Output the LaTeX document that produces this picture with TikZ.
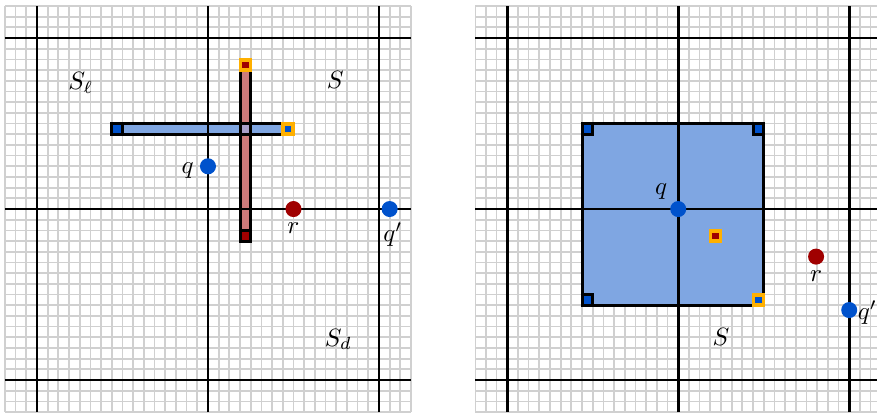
\documentclass[tikz,border=0pt]{standalone}
\definecolor{barblue}{RGB}{127,166,226}
\definecolor{barred}{RGB}{205,123,123}
\definecolor{overlapc}{RGB}{168,158,200}
\definecolor{dkblue}{RGB}{0,82,204}
\definecolor{dkred}{RGB}{160,0,0}
\definecolor{orng}{RGB}{255,176,0}
\definecolor{gridc}{RGB}{208,208,208}
\newcommand{\ringbox}[3]{%
  \fill[orng] ({#1-0.13},{#2-0.13}) rectangle ({#1+1.13},{#2+1.13});
  \fill[#3] ({#1+0.2},{#2+0.2}) rectangle ({#1+0.8},{#2+0.8});}
\begin{document}
\begin{tikzpicture}[x=0.15cm,y=0.15cm,
  fine/.style={draw=gridc,line width=0.7pt,step=0.15cm},
  major/.style={draw=black,line width=1.1pt},
  outl/.style={draw=black,line width=1.2pt},
  dot/.style={circle,inner sep=0pt,minimum size=0.225cm},
  lab/.style={inner sep=1pt}]
\useasboundingbox (-3.46,-2.99) rectangle (78.6,35.56);
% ---------------- left panel ----------------
\draw[fine] (-3,-3) grid (35,35);
\fill[barred] (19,13) rectangle (20,30);
\fill[barblue] (7,23) rectangle (24,24);
\fill[overlapc] (19,23) rectangle (20,24);
\foreach \v in {0,16,32} {
  \draw[major] (\v,-3) -- (\v,35);
  \draw[major] (-3,\v) -- (35,\v);
}
\draw[outl] (7,23) rectangle (24,24);
\draw[outl] (19,13) rectangle (20,30);
\draw[outl,fill=dkblue] (7,23) rectangle (8,24);
\draw[outl,fill=dkred] (19,13) rectangle (20,14);
\ringbox{23}{23}{dkblue}
\ringbox{19}{29}{dkred}
\node[dot,fill=dkblue] (q) at (16,20) {};
\node[dot,fill=dkred] (r) at (24,16) {};
\node[dot,fill=dkblue] (qp) at (33,16) {};
\node[lab] (ql) at (14.1,19.6) {$q$};
\node[lab] (rl) at (24,14.2) {$r$};
\node[lab] (qpl) at (33.3,13.6) {$q'$};
\node[lab] (Sl) at (4.1,27.8) {$S_\ell$};
\node[lab] (S) at (27.9,28.1) {$S$};
\node[lab] (Sd) at (28.2,3.8) {$S_d$};
% ---------------- right panel ----------------
\begin{scope}
\clip (41,-3.2) rectangle (78.6,35.2);
\draw[fine] (41,-3) grid (79,35);
\fill[barblue] (51,7) rectangle (68,24);
\foreach \v in {44,60,76} \draw[major] (\v,-3) -- (\v,35);
\foreach \v in {0,16,32} \draw[major] (41,\v) -- (79,\v);
\end{scope}
\draw[outl] (51,7) rectangle (68,24);
\draw[outl,fill=dkblue] (51,23) rectangle (52,24);
\draw[outl,fill=dkblue] (67,23) rectangle (68,24);
\draw[outl,fill=dkblue] (51,7) rectangle (52,8);
\ringbox{67}{7}{dkblue}
\ringbox{63}{13}{dkred}
\node[dot,fill=dkblue] (q2) at (60,16) {};
\node[dot,fill=dkred] (r2) at (72.9,11.55) {};
\node[dot,fill=dkblue] (qp2) at (76,6.55) {};
\node[lab] (ql2) at (58.4,17.6) {$q$};
\node[lab] (rl2) at (72.9,9.7) {$r$};
\node[lab] (qpl2) at (77.7,6.3) {$q'$};
\node[lab] (S2) at (64,4) {$S$};
\end{tikzpicture}
\end{document}
